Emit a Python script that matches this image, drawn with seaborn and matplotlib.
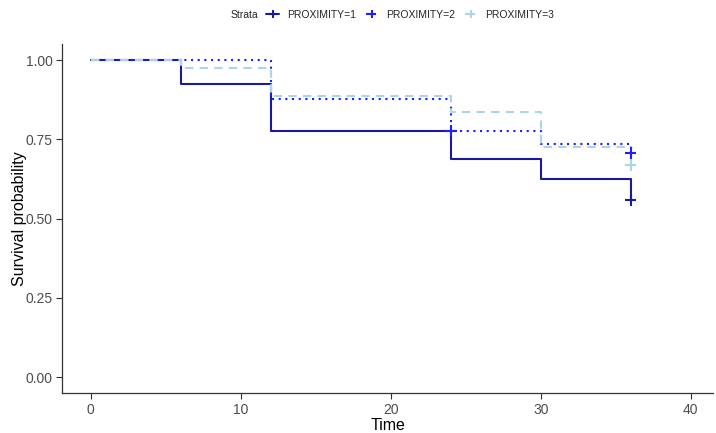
import numpy as np
import pandas as pd
import matplotlib
matplotlib.use("Agg")
import matplotlib.pyplot as plt
import seaborn as sns
from matplotlib.lines import Line2D

# Kaplan-Meier estimates
strata = ["PROXIMITY=1", "PROXIMITY=2", "PROXIMITY=3"]
time_1 = [0, 6, 12, 24, 30, 36]
surv_1 = [1.0, 0.925, 0.777, 0.689, 0.625, 0.558]
time_2 = [0, 12, 24, 30, 36]
surv_2 = [1.0, 0.877, 0.777, 0.736, 0.707]
time_3 = [0, 6, 12, 24, 30, 36]
surv_3 = [1.0, 0.975, 0.887, 0.837, 0.725, 0.670]

# censored observations (time, survival)
cens_time = [36, 24, 36, 36]
cens_surv = [0.558, 0.777, 0.707, 0.670]
cens_strata = ["PROXIMITY=1", "PROXIMITY=2", "PROXIMITY=2", "PROXIMITY=3"]

x_ticks = [0, 10, 20, 30, 40]
y_ticks = [0.0, 0.25, 0.5, 0.75, 1.0]

colors = ["#1a1a9e", "#1f1fff", "#a9d6ea"]
dash_specs = ["", (1, 2.2), (4, 3)]

df = pd.concat([
    pd.DataFrame({"time": time_1, "surv": surv_1, "Strata": strata[0]}),
    pd.DataFrame({"time": time_2, "surv": surv_2, "Strata": strata[1]}),
    pd.DataFrame({"time": time_3, "surv": surv_3, "Strata": strata[2]}),
], ignore_index=True)
cens = pd.DataFrame({"time": cens_time, "surv": cens_surv, "Strata": cens_strata})

sns.set_theme(style="white")
plt.rcParams["font.family"] = ["Liberation Sans", "DejaVu Sans"]

fig = plt.figure(figsize=(7.16, 4.33), dpi=100)
ax = fig.add_axes([0.087, 0.092, 0.909, 0.806])

palette = dict(zip(strata, colors))
sns.lineplot(data=df, x="time", y="surv", hue="Strata", style="Strata",
             hue_order=strata, style_order=strata, palette=palette,
             dashes=dash_specs, drawstyle="steps-post", linewidth=1.5,
             estimator=None, legend=False, ax=ax)
sns.scatterplot(data=cens, x="time", y="surv", hue="Strata", hue_order=strata,
                palette=palette, marker="+", s=70, linewidth=1.5,
                legend=False, ax=ax, zorder=5)

ax.set_xlim(-1.9, 41.5)
ax.set_ylim(-0.05, 1.05)
ax.set_xticks(x_ticks)
ax.set_yticks(y_ticks)
ax.set_yticklabels([f"{v:.2f}" for v in y_ticks])
ax.set_xlabel("Time", fontsize=11.5, color="black", labelpad=1)
ax.set_ylabel("Survival probability", fontsize=11.5, color="black", labelpad=-1)
ax.tick_params(axis="both", labelsize=10, colors="#4d4d4d", length=4,
               width=0.8, direction="out", bottom=True, left=True, pad=3)
ax.tick_params(axis="both", color="#333333")
sns.despine(ax=ax)
for side in ["left", "bottom"]:
    ax.spines[side].set_color("#333333")
    ax.spines[side].set_linewidth(0.9)

handles = []
for c, d in zip(colors, dash_specs):
    h = Line2D([0], [0], color=c, linewidth=1.5, marker="+", markersize=6,
               markeredgewidth=1.5)
    if d:
        h.set_dashes(d)
    handles.append(h)
fig.text(0.361, 0.966, "Strata", fontsize=7.5, va="center", ha="right")
fig.legend(handles, strata, loc="center left", bbox_to_anchor=(0.372, 0.966),
           ncol=3, frameon=False, fontsize=7.5, handlelength=1.2,
           handletextpad=0.8, columnspacing=0.9, borderaxespad=0, borderpad=0)

fig.savefig("out.png", dpi=100)
